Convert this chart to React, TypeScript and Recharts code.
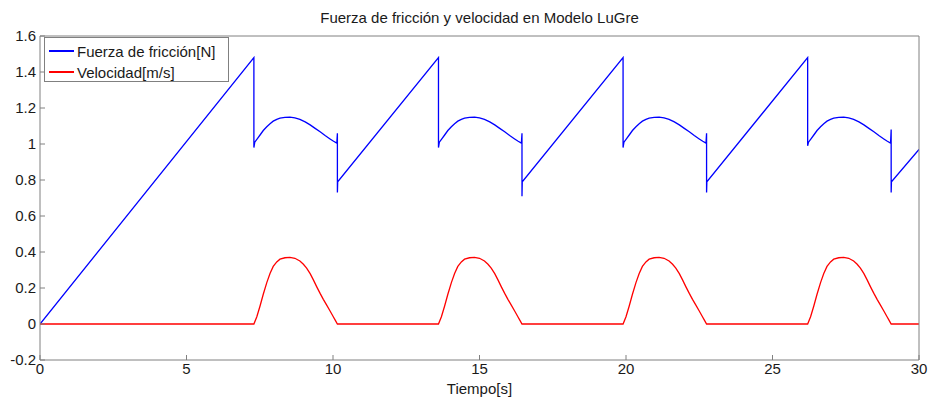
import { LineChart, Line, XAxis, YAxis } from 'recharts';

// Fuerza de fricción [N] (one row per stick-slip cycle)
const frictionTime = [
  0,
  7.3, 7.3, 7.33, 7.42, 7.51, 7.62, 7.74, 7.85, 7.96, 8.08, 8.19, 8.36, 8.53, 8.7, 8.87, 9.05, 9.22, 9.39, 9.56, 9.73, 9.9, 10.02, 10.13, 10.15, 10.15, 10.16,
  13.6, 13.6, 13.63, 13.72, 13.81, 13.92, 14.04, 14.15, 14.26, 14.38, 14.49, 14.66, 14.83, 15.0, 15.17, 15.35, 15.52, 15.69, 15.86, 16.03, 16.2, 16.32, 16.43, 16.45, 16.45, 16.46,
  19.9, 19.9, 19.93, 20.02, 20.11, 20.22, 20.34, 20.45, 20.56, 20.68, 20.79, 20.96, 21.13, 21.3, 21.47, 21.65, 21.82, 21.99, 22.16, 22.33, 22.5, 22.62, 22.73, 22.75, 22.75, 22.76,
  26.2, 26.2, 26.23, 26.32, 26.41, 26.52, 26.64, 26.75, 26.86, 26.98, 27.09, 27.26, 27.43, 27.6, 27.77, 27.95, 28.12, 28.29, 28.46, 28.63, 28.8, 28.92, 29.03, 29.05, 29.05, 29.06,
  30,
];
const frictionValue = [
  0,
  1.48, 0.98, 1.01, 1.03, 1.05, 1.075, 1.096, 1.113, 1.127, 1.137, 1.144, 1.148, 1.149, 1.145, 1.137, 1.123, 1.106, 1.087, 1.068, 1.047, 1.028, 1.015, 1.005, 1.06, 0.73, 0.79,
  1.48, 0.98, 1.01, 1.03, 1.05, 1.075, 1.096, 1.113, 1.127, 1.137, 1.144, 1.148, 1.149, 1.145, 1.137, 1.123, 1.106, 1.087, 1.068, 1.047, 1.028, 1.015, 1.005, 1.06, 0.71, 0.79,
  1.48, 0.98, 1.01, 1.03, 1.05, 1.075, 1.096, 1.113, 1.127, 1.137, 1.144, 1.148, 1.149, 1.145, 1.137, 1.123, 1.106, 1.087, 1.068, 1.047, 1.028, 1.015, 1.005, 1.06, 0.73, 0.79,
  1.48, 0.99, 1.01, 1.03, 1.05, 1.075, 1.096, 1.113, 1.127, 1.137, 1.144, 1.148, 1.149, 1.145, 1.137, 1.123, 1.106, 1.087, 1.068, 1.047, 1.028, 1.015, 1.005, 1.08, 0.73, 0.79,
  0.97,
];

// Velocidad [m/s]
const velocityTime = [
  0,
  7.3, 7.4, 7.51, 7.62, 7.74, 7.85, 7.96, 8.08, 8.19, 8.36, 8.53, 8.7, 8.87, 8.99, 9.1, 9.22, 9.33, 9.45, 9.56, 9.67, 9.78, 9.9, 10.01, 10.08, 10.15,
  13.6, 13.7, 13.81, 13.92, 14.04, 14.15, 14.26, 14.38, 14.49, 14.66, 14.83, 15.0, 15.17, 15.29, 15.4, 15.52, 15.63, 15.75, 15.86, 15.97, 16.08, 16.2, 16.31, 16.38, 16.45,
  19.9, 20.0, 20.11, 20.22, 20.34, 20.45, 20.56, 20.68, 20.79, 20.96, 21.13, 21.3, 21.47, 21.59, 21.7, 21.82, 21.93, 22.05, 22.16, 22.27, 22.38, 22.5, 22.61, 22.68, 22.75,
  26.2, 26.3, 26.41, 26.52, 26.64, 26.75, 26.86, 26.98, 27.09, 27.26, 27.43, 27.6, 27.77, 27.89, 28.0, 28.12, 28.23, 28.35, 28.46, 28.57, 28.68, 28.8, 28.91, 28.98, 29.05,
  30,
];
const velocityValue = [
  0,
  0, 0.04, 0.1, 0.165, 0.23, 0.28, 0.32, 0.345, 0.36, 0.368, 0.37, 0.365, 0.35, 0.332, 0.31, 0.28, 0.245, 0.205, 0.17, 0.137, 0.106, 0.072, 0.04, 0.02, 0,
  0, 0.04, 0.1, 0.165, 0.23, 0.28, 0.32, 0.345, 0.36, 0.368, 0.37, 0.365, 0.35, 0.332, 0.31, 0.28, 0.245, 0.205, 0.17, 0.137, 0.106, 0.072, 0.04, 0.02, 0,
  0, 0.04, 0.1, 0.165, 0.23, 0.28, 0.32, 0.345, 0.36, 0.368, 0.37, 0.365, 0.35, 0.332, 0.31, 0.28, 0.245, 0.205, 0.17, 0.137, 0.106, 0.072, 0.04, 0.02, 0,
  0, 0.04, 0.1, 0.165, 0.23, 0.28, 0.32, 0.345, 0.36, 0.368, 0.37, 0.365, 0.35, 0.332, 0.31, 0.28, 0.245, 0.205, 0.17, 0.137, 0.106, 0.072, 0.04, 0.02, 0,
  0,
];

const xTicks = [0, 5, 10, 15, 20, 25, 30];
const yTicks = [-0.2, 0, 0.2, 0.4, 0.6, 0.8, 1, 1.2, 1.4, 1.6];

const frictionData = frictionTime.map((t, i) => ({ t, f: frictionValue[i] }));
const velocityData = velocityTime.map((t, i) => ({ t, v: velocityValue[i] }));

const FONT = '"Liberation Sans", Arial, sans-serif';
const AXIS = '#808080';
const TEXT = '#1a1a1a';

function LegendBox() {
  const items = [
    { label: 'Fuerza de fricción[N]', color: '#0000ff' },
    { label: 'Velocidad[m/s]', color: '#ff0000' },
  ];
  return (
    <div
      style={{
        position: 'absolute',
        left: 44,
        top: 37,
        width: 183,
        height: 43,
        border: `1px solid ${AXIS}`,
        background: '#fff',
        fontFamily: FONT,
        fontSize: 15,
        color: TEXT,
      }}
    >
      {items.map((it, i) => (
        <div
          key={it.label}
          style={{ position: 'absolute', left: 4, top: 3 + i * 21, height: 20, display: 'flex', alignItems: 'center' }}
        >
          <div style={{ width: 25, height: 1.5, background: it.color, marginRight: 3 }} />
          <span>{it.label}</span>
        </div>
      ))}
    </div>
  );
}

export default function App() {
  return (
    <div style={{ position: 'relative', width: 933, height: 399, background: '#fff' }}>
      <style>{'body{margin:0;}'}</style>
      <div
        style={{
          position: 'absolute',
          left: 40,
          width: 879,
          top: 9,
          textAlign: 'center',
          fontFamily: FONT,
          fontSize: 15,
          color: TEXT,
        }}
      >
        Fuerza de fricción y velocidad en Modelo LuGre
      </div>
      <LineChart width={933} height={399} margin={{ top: 35, right: 13, left: 0, bottom: 0 }}>
        <XAxis
          dataKey="t"
          type="number"
          domain={[0, 30]}
          ticks={xTicks}
          allowDataOverflow
          height={39}
          stroke={AXIS}
          tickSize={-5}
          tickMargin={8}
          tick={{ fill: TEXT, fontSize: 15, fontFamily: FONT }}
          label={{ value: 'Tiempo[s]', position: 'insideBottom', offset: 5, fill: TEXT, fontSize: 15, fontFamily: FONT }}
        />
        <XAxis
          xAxisId="top"
          orientation="top"
          dataKey="t"
          type="number"
          domain={[0, 30]}
          ticks={xTicks}
          allowDataOverflow
          height={1}
          stroke={AXIS}
          tickSize={-5}
          tick={false}
        />
        <YAxis
          type="number"
          domain={[-0.2, 1.6]}
          ticks={yTicks}
          allowDataOverflow
          width={40}
          stroke={AXIS}
          tickSize={-5}
          tickMargin={9}
          tick={{ fill: TEXT, fontSize: 15, fontFamily: FONT }}
        />
        <YAxis
          yAxisId="right"
          orientation="right"
          type="number"
          domain={[-0.2, 1.6]}
          ticks={yTicks}
          allowDataOverflow
          width={1}
          stroke={AXIS}
          tickSize={-5}
          tick={false}
        />
        <Line
          data={frictionData}
          dataKey="f"
          name="Fuerza de fricción[N]"
          stroke="#0000ff"
          strokeWidth={1.3}
          dot={false}
          type="linear"
          isAnimationActive={false}
        />
        <Line
          data={velocityData}
          dataKey="v"
          name="Velocidad[m/s]"
          stroke="#ff0000"
          strokeWidth={1.3}
          dot={false}
          type="linear"
          isAnimationActive={false}
        />
      </LineChart>
      <LegendBox />
    </div>
  );
}
